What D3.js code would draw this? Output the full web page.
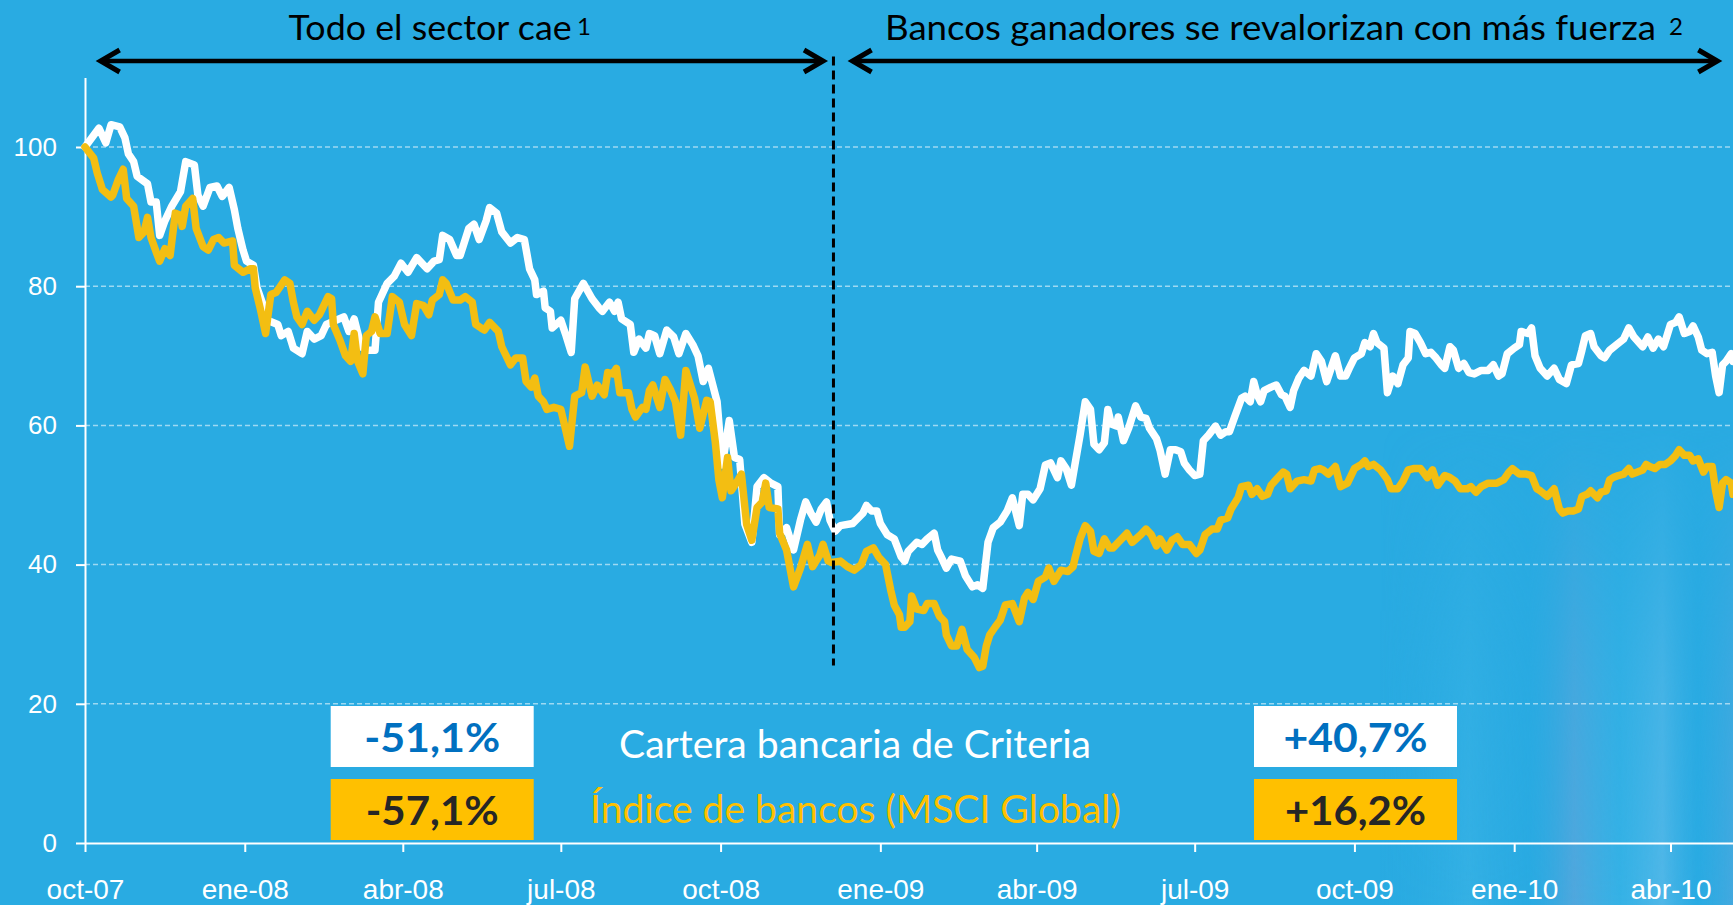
<!DOCTYPE html>
<html lang="es">
<head>
    <meta charset="UTF-8">
    <title>Cartera bancaria de Criteria vs. índice de bancos</title>
    <script src="https://d3js.org/d3.v7.min.js"></script>
    <style>
        html, body {
            margin: 0;
            padding: 0;
            background: #29abe2;
        }
        svg {
            display: block;
            font-family: Lato, "Open Sans", sans-serif;
        }
        .axis text {
            fill: #fff;
        }
        .axis path, .axis line {
            stroke: #fff;
            stroke-width: 2;
        }
    </style>
</head>
<body>
<div id="container"></div>
<script>
    // --- data -------------------------------------------------------------
    const startDate = '2007-10-01';
    const endDate = '2010-05-07';
    const splitDate = '2008-12-05';

    const yTicks = [0, 20, 40, 60, 80, 100];
    const xTicks = ['2007-10-01', '2008-01-01', '2008-04-01', '2008-07-01', '2008-10-01',
                    '2009-01-01', '2009-04-01', '2009-07-01', '2009-10-01', '2010-01-01', '2010-04-01'];
    const monthNames = ['ene', 'feb', 'mar', 'abr', 'may', 'jun', 'jul', 'ago', 'sep', 'oct', 'nov', 'dic'];

    // [days since 1 Oct 2007, index value]
    const criteria = [[0,100],[8,102.7],[12,100.6],[15,103.2],[20,102.9],[23,101.3],[25,99.0],[28,97.9],[30,95.8],[36,94.7],[38,92.1],[41,92.1],[43,87.3],[46,89.4],[50,91.5],[55,93.6],[58,97.9],[63,97.4],[65,93.1],[68,91.5],[72,94.2],[76,94.4],[79,92.9],[83,94.2],[86,91.0],[88,88.3],[91,85.2],[93,83.6],[97,83.0],[99,79.8],[102,77.7],[105,75.1],[111,74.5],[113,72.9],[117,73.5],[120,71.1],[125,70.3],[128,73.5],[132,72.4],[136,72.9],[139,74.5],[149,75.6],[152,73.5],[155,75.3],[159,71.3],[162,70.8],[167,70.8],[169,77.7],[174,80.4],[178,81.4],[182,83.3],[186,82.0],[191,84.1],[197,82.5],[201,83.6],[204,83.8],[206,87.3],[210,86.7],[214,84.4],[216,84.4],[221,88.3],[224,88.9],[227,86.7],[231,89.4],[233,91.3],[237,90.5],[240,87.8],[245,86.2],[249,87.0],[253,86.7],[256,82.5],[259,80.9],[260,78.8],[264,79.3],[265,76.9],[268,76.4],[269,74.0],[274,75.1],[277,72.9],[280,70.5],[282,78.2],[287,80.4],[292,78.2],[296,76.9],
        [298,76.4],[302,77.7],[305,76.4],[307,77.7],[309,75.3],[314,74.5],[316,70.5],[319,72.4],[323,71.1],[325,73.2],[328,72.9],[331,70.3],[335,73.7],[339,72.7],[342,70.3],[346,73.2],[350,71.6],[353,70.0],[356,66.3],[359,68.2],[364,63.4],[367,54.3],[371,60.7],[374,55.4],[377,55.1],[380,45.8],[384,43.2],[387,51.2],[391,52.5],[395,51.7],[399,51.2],[400,44.3],[404,45.3],[408,42.1],[412,46.4],[415,49.0],[418,47.4],[421,46.1],[424,48.0],[427,49.0],[429,46.4],[432,44.8],[435,45.6],[442,45.9],[448,47.4],[450,48.5],[453,47.7],[456,47.7],[458,45.9],[462,44.3],[466,43.7],[470,41.1],[472,40.5],[474,41.9],[479,43.2],[482,42.9],[485,43.7],[489,44.5],[491,42.1],[493,41.1],[496,39.5],[499,40.8],[504,40.5],[507,38.4],[511,36.8],[514,37.1],[517,36.6],[520,43.2],[523,45.3],[527,46.1],[531,47.7],[534,49.6],[538,45.6],[540,50.1],[543,50.1],[546,49.3],[550,50.9],[553,54.3],[556,54.6],[560,52.5],[562,54.9],[565,53.8],[568,51.4],[570,54.3],
        [573,58.6],[576,63.4],[579,62.3],[581,57.3],[584,56.5],[587,57.5],[589,62.3],[591,60.2],[594,59.9],[595,61.2],[598,57.8],[601,59.6],[605,62.8],[608,61.2],[611,61.0],[613,59.6],[617,58.1],[619,56.5],[622,53.0],[625,56.5],[628,56.5],[631,56.2],[633,54.6],[636,53.6],[639,52.8],[642,53.0],[644,57.8],[647,58.6],[651,59.9],[654,58.6],[657,59.1],[659,59.1],[662,61.2],[666,63.9],[668,64.2],[671,63.4],[673,66.3],[675,64.4],[677,63.4],[679,65.0],[683,65.5],[686,65.8],[689,64.4],[691,64.2],[694,62.6],[696,65.0],[699,66.8],[702,67.9],[706,67.1],[709,70.3],[712,69.2],[715,66.3],[720,70.0],[723,67.1],[726,67.1],[728,68.2],[731,69.7],[735,70.3],[737,71.9],[740,71.3],[742,73.2],[744,71.9],[748,71.1],[750,64.7],[753,67.1],[756,66.0],[759,68.7],[762,69.7],[763,73.5],[766,73.2],[769,71.9],[772,70.3],[775,70.5],[778,69.7],[781,68.7],[783,68.2],[786,71.3],[788,70.8],[791,68.2],[794,68.9],[797,67.6],[800,67.4],[804,67.9],[808,67.9],[811,68.7],[814,67.1],[816,67.4],[819,70.3],[823,71.1],[826,71.6],[827,73.5],[831,73.2],[833,74.0],[835,70.0],[838,68.2],[842,67.1],[846,68.2],[849,66.6],
        [851,66.3],[853,66.0],[856,68.7],[860,68.9],[862,70.8],[864,72.9],[867,73.2],[869,71.3],[873,70.0],[875,69.7],[878,70.8],[882,71.6],[886,72.4],[889,74.0],[892,72.7],[897,71.3],[900,72.7],[903,71.1],[906,72.4],[909,71.3],[911,72.9],[913,74.5],[916,74.8],[918,75.6],[921,73.2],[924,73.5],[926,74.3],[929,72.7],[931,70.8],[934,70.3],[937,70.5],[939,67.1],[941,64.7],[943,68.7],[945,69.2],[948,70.3],[949,69.2]];

    const msci = [[0,100],[5,98.4],[7,96.3],[10,93.9],[15,92.8],[16,93.1],[19,95.2],[22,96.8],[24,92.6],[28,91.5],[31,87.0],[34,87.8],[36,89.9],[38,87.0],[41,84.9],[43,83.6],[46,85.4],[49,84.4],[52,90.5],[55,90.2],[56,88.6],[58,91.5],[62,92.6],[64,88.3],[68,85.7],[71,85.2],[74,86.7],[77,87.0],[80,86.2],[85,86.5],[86,83.0],[91,82.0],[95,82.5],[97,82.5],[98,79.8],[101,76.7],[104,73.2],[107,78.8],[110,79.1],[112,79.8],[115,80.9],[118,80.4],[120,77.7],[122,75.6],[125,74.5],[128,76.4],[132,75.1],[135,75.9],[140,78.5],[142,78.2],[143,74.5],[147,72.1],[150,70.0],[153,69.2],[155,73.2],[157,69.2],[160,67.4],[162,72.9],[165,73.5],[167,75.6],[170,73.2],[174,73.2],[177,78.5],[181,77.7],[184,74.5],[188,72.9],[191,77.5],[195,77.2],[198,75.9],[200,78.0],[204,78.8],[206,80.9],[208,80.4],[212,78.0],[216,78.0],[219,78.5],[223,77.7],[225,74.5],[228,74.0],[230,73.7],[233,74.8],[238,73.5],[240,71.3],[245,68.7],[248,69.7],[252,69.7],[254,66.3],[257,65.5],[259,66.8],[261,64.2],[264,63.4],[266,62.3],[270,62.6],[274,62.3],[276,60.2],[279,57.0],[282,64.2],[286,64.7],[288,68.4],[292,64.2],[295,65.8],
        [299,64.4],[301,67.6],[304,67.4],[306,68.2],[308,64.7],[313,64.7],[315,62.3],[317,61.2],[321,62.6],[323,62.3],[325,65.0],[327,65.8],[331,62.6],[334,66.6],[337,65.2],[340,63.4],[343,58.6],[346,67.9],[349,65.5],[351,63.9],[354,59.6],[358,63.6],[360,63.4],[363,57.5],[365,52.2],[367,49.6],[370,55.4],[372,50.6],[375,51.7],[378,53.0],[381,45.8],[384,43.5],[387,48.2],[390,49.0],[392,51.7],[394,48.2],[399,48.0],[400,44.5],[404,42.1],[408,36.8],[412,39.5],[416,42.9],[419,39.7],[421,40.5],[423,41.3],[425,42.9],[428,40.5],[430,40.3],[435,40.5],[439,39.7],[443,39.2],[447,40.0],[450,41.9],[454,42.4],[457,41.1],[461,40.0],[464,36.3],[466,34.2],[469,32.8],[470,31.0],[472,31.0],[475,31.8],[476,35.5],[479,33.6],[483,33.4],[485,34.4],[489,34.4],[492,32.6],[495,31.8],[496,29.9],[499,28.3],[502,28.3],[505,30.7],[508,27.8],[512,26.7],[515,25.2],[517,25.4],[519,28.3],[521,29.9],[524,31.0],[527,32.0],[530,34.2],[534,34.4],[538,31.8],[541,35.2],[543,36.0],[546,35.0],[549,37.6],[553,38.2],[555,39.5],[558,37.6],[562,39.2],[566,39.0],[569,39.7],[570,40.8],[573,43.7],
        [576,45.6],[579,44.8],[581,41.9],[584,41.6],[587,43.7],[590,42.4],[592,42.4],[595,43.2],[600,44.5],[603,43.2],[608,44.3],[611,45.1],[614,44.3],[617,42.7],[619,43.7],[623,42.1],[626,43.5],[629,44.0],[632,42.9],[636,42.9],[640,41.6],[642,42.1],[645,44.3],[649,45.1],[652,45.1],[654,46.4],[658,46.7],[660,48.0],[664,49.6],[666,51.2],[670,51.4],[672,50.1],[675,50.9],[678,49.8],[681,50.1],[683,51.4],[687,52.5],[690,53.3],[692,53.0],[694,50.9],[698,52.0],[702,52.2],[706,52.0],[708,53.6],[711,53.8],[713,53.6],[716,53.0],[720,54.1],[723,51.2],[727,51.7],[731,53.8],[735,54.4],[737,54.9],[739,54.1],[742,54.4],[746,53.6],[750,52.2],[752,50.9],[756,50.9],[759,52.0],[762,53.6],[765,53.8],[769,53.8],[773,52.5],[776,53.6],[779,51.4],[783,52.8],[786,52.5],[789,52.0],[792,50.9],[796,50.9],[798,51.2],[801,50.4],[804,51.2],[808,51.7],[813,51.7],[817,52.2],[820,53.3],[822,53.8],[826,53.0],[830,53.0],[833,52.8],[836,50.9],[838,50.6],[842,49.8],[846,50.9],[849,48.0],
        [851,47.4],[854,47.7],[857,47.7],[860,48.0],[862,49.8],[865,50.1],[867,50.6],[871,49.6],[873,50.4],[876,50.6],[878,52.2],[880,52.5],[883,52.8],[886,53.0],[889,53.8],[891,53.0],[894,53.3],[897,53.6],[899,54.4],[901,54.1],[904,53.8],[907,54.4],[910,54.4],[913,54.9],[916,55.7],[918,56.5],[921,55.7],[924,55.7],[926,54.9],[929,55.2],[932,53.3],[934,54.1],[937,54.1],[939,50.6],[941,48.2],[943,51.7],[945,52.2],[948,51.7],[949,50.1]];

    const seriesNames = ['Cartera bancaria de Criteria', 'Índice de bancos (MSCI Global)'];
    const periodLabels = ['Todo el sector cae', 'Bancos ganadores se revalorizan con más fuerza'];
    const periodNotes = ['1', '2'];
    const periodStarts = ['2007-10-10', '2008-12-16'];
    const periodEnds = ['2008-11-29', '2010-04-28'];
    const changeBefore = ['-51,1%', '-57,1%'];
    const changeAfter = ['+40,7%', '+16,2%'];

    // --- setup ------------------------------------------------------------
    const width = 1733, height = 905;
    const margin_left = 85, margin_bottom = 62;
    const white = '#ffffff', gold = '#f3be12', goldText = '#ffc000', blue = '#0070c0', dark = '#262626';

    const parse = d3.utcParse('%Y-%m-%d');
    const start = parse(startDate);
    const toDate = day => d3.utcDay.offset(start, day);

    const svg = d3.select('#container').append('svg')
        .attr('width', width)
        .attr('height', height);

    // background, with the light streaks at the lower right
    const defs = svg.append('defs');
    const streak = defs.append('linearGradient').attr('id', 'streak');
    [[0, '#29abe2', 0], [0.25, '#3cb4e6', 0.6], [0.42, '#2aa9e2', 0.3], [0.55, '#5aa6dc', 0.8],
     [0.68, '#3db6e8', 0.6], [0.8, '#55b8e8', 0.9], [0.9, '#2aaae3', 0.5], [1, '#4aa8de', 0.8]]
        .forEach(([o, c, a]) => streak.append('stop').attr('offset', o).attr('stop-color', c).attr('stop-opacity', a));
    const fade = defs.append('linearGradient').attr('id', 'fade').attr('x1', 0).attr('x2', 0).attr('y1', 0).attr('y2', 1);
    fade.append('stop').attr('offset', 0).attr('stop-color', '#fff').attr('stop-opacity', 0);
    fade.append('stop').attr('offset', 0.55).attr('stop-color', '#fff').attr('stop-opacity', 0.7);
    fade.append('stop').attr('offset', 1).attr('stop-color', '#fff').attr('stop-opacity', 1);
    defs.append('mask').attr('id', 'fadeMask')
        .append('rect').attr('x', 1380).attr('y', 420).attr('width', 353).attr('height', 485).attr('fill', 'url(#fade)');

    svg.append('rect')
        .attr('width', width)
        .attr('height', height)
        .attr('fill', '#29abe2');
    svg.append('rect')
        .attr('x', 1380).attr('y', 420).attr('width', 353).attr('height', 485)
        .attr('fill', 'url(#streak)')
        .attr('mask', 'url(#fadeMask)');

    const x = d3.scaleUtc()
        .domain([start, parse(endDate)])
        .range([margin_left, width]);

    const y = d3.scaleLinear()
        .domain([0, 110])
        .range([height - margin_bottom, 77.4]);

    // dashed gridlines
    svg.append('g')
        .selectAll('line')
        .data(yTicks.filter(v => v > 0))
        .join('line')
        .attr('x1', margin_left)
        .attr('x2', width)
        .attr('y1', d => y(d))
        .attr('y2', d => y(d))
        .attr('stroke', 'rgba(255,255,255,0.55)')
        .attr('stroke-width', 1.5)
        .attr('stroke-dasharray', '5,3');

    // axes
    svg.append('g')
        .attr('class', 'axis')
        .attr('transform', `translate(${margin_left},0)`)
        .call(d3.axisLeft(y).tickValues(yTicks).tickSize(9).tickPadding(19).tickSizeOuter(0))
        .call(g => g.selectAll('text').attr('font-size', 26));

    const fmt = d => `${monthNames[d.getUTCMonth()]}-${String(d.getUTCFullYear()).slice(2)}`;
    svg.append('g')
        .attr('class', 'axis')
        .attr('transform', `translate(0,${y(0)})`)
        .call(d3.axisBottom(x).tickValues(xTicks.map(parse)).tickFormat(fmt)
            .tickSize(9).tickPadding(27).tickSizeOuter(0))
        .call(g => g.selectAll('text').attr('font-size', 28));

    // series lines (index line drawn last, on top)
    const line = d3.line()
        .x(d => x(toDate(d[0])))
        .y(d => y(d[1]));

    [[criteria, white], [msci, gold]].forEach(([data, color]) => {
        svg.append('path')
            .datum(data)
            .attr('d', line)
            .attr('fill', 'none')
            .attr('stroke', color)
            .attr('stroke-width', 7.5)
            .attr('stroke-linejoin', 'round')
            .attr('stroke-linecap', 'round');
    });

    // split marker
    const xs = x(parse(splitDate));
    svg.append('line')
        .attr('x1', xs).attr('x2', xs)
        .attr('y1', y(113)).attr('y2', y(25.5))
        .attr('stroke', '#000')
        .attr('stroke-width', 3)
        .attr('stroke-dasharray', '9,5');

    // period arrows and titles
    const arrowY = 61;
    periodLabels.forEach((label, i) => {
        const x1 = x(parse(periodStarts[i]));
        const x2 = x(parse(periodEnds[i]));
        const g = svg.append('g').attr('stroke', '#000').attr('fill', 'none');
        g.append('line')
            .attr('x1', x1 + 2).attr('x2', x2 - 2)
            .attr('y1', arrowY).attr('y2', arrowY)
            .attr('stroke-width', 4.5);
        g.append('path')
            .attr('d', `M${x1 + 19},${arrowY - 11}L${x1},${arrowY}L${x1 + 19},${arrowY + 11}`)
            .attr('stroke-width', 5);
        g.append('path')
            .attr('d', `M${x2 - 19},${arrowY - 11}L${x2},${arrowY}L${x2 - 19},${arrowY + 11}`)
            .attr('stroke-width', 5);
    });

    const titleLeft = [288.6, 885];
    const titleWidth = [283, 771];
    const noteX = [577, 1669];
    periodLabels.forEach((label, i) => {
        svg.append('text')
            .attr('x', titleLeft[i])
            .attr('y', 40)
            .attr('font-size', 34)
            .attr('fill', '#000')
            .attr('textLength', titleWidth[i])
            .attr('lengthAdjust', 'spacingAndGlyphs')
            .text(label);
        svg.append('text')
            .attr('x', noteX[i])
            .attr('y', 35)
            .attr('font-size', 24)
            .attr('fill', '#000')
            .text(periodNotes[i]);
    });

    // legend in the middle
    const legendLeft = [619, 590];
    const legendWidth = [472, 531];
    const legendBase = [758, 823];
    seriesNames.forEach((name, i) => {
        svg.append('text')
            .attr('x', legendLeft[i])
            .attr('y', legendBase[i])
            .attr('font-size', 39)
            .attr('fill', i === 0 ? white : goldText)
            .attr('textLength', legendWidth[i])
            .attr('lengthAdjust', 'spacingAndGlyphs')
            .text(name);
    });

    // change boxes
    const boxTop = [706, 779];
    const boxH = 61;
    const boxes = [
        {left: 330.7, labels: changeBefore, widths: [136, 133]},
        {left: 1254, labels: changeAfter, widths: [144, 141]}
    ];
    boxes.forEach(b => {
        b.labels.forEach((lab, i) => {
            svg.append('rect')
                .attr('x', b.left)
                .attr('y', boxTop[i])
                .attr('width', 203)
                .attr('height', boxH)
                .attr('fill', i === 0 ? white : goldText);
            svg.append('text')
                .attr('x', b.left + 101.5 - b.widths[i] / 2)
                .attr('y', boxTop[i] + 46)
                .attr('font-size', 41)
                .attr('font-weight', 700)
                .attr('fill', i === 0 ? blue : dark)
                .attr('textLength', b.widths[i])
                .attr('lengthAdjust', 'spacingAndGlyphs')
                .text(lab);
        });
    });
</script>
</body>
</html>
